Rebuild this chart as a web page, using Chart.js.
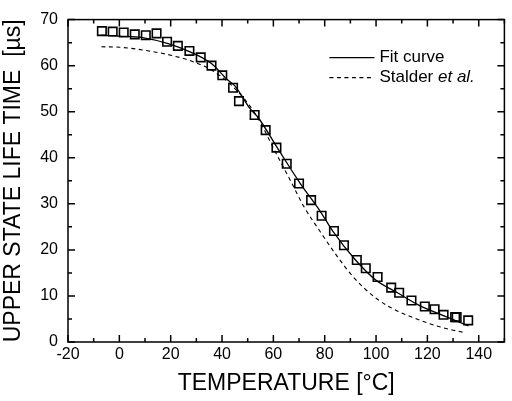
<!DOCTYPE html>
<html>
<head>
<meta charset="utf-8">
<script src="https://cdn.jsdelivr.net/npm/chart.js@4"></script>
<style>
  html, body { margin: 0; padding: 0; background: #fff; }
  #wrap { width: 512px; height: 401px; position: relative; }
</style>
</head>
<body>
<div id="wrap"><canvas id="chart"></canvas></div>
<script>
// measured lifetimes (squares)
const measuredTemp = [-6.8, -2.6, 1.7, 6.0, 10.3, 14.5, 18.6, 22.8, 27.3, 31.7, 35.9, 40.1, 44.3, 46.6, 52.7, 57.0, 61.2, 65.2, 70.0, 74.7, 78.8, 83.6, 87.5, 92.5, 96.0, 100.6, 105.9, 109.0, 113.8, 119.0, 122.8, 126.3, 130.8, 131.4, 135.9];
const measuredLife = [67.5, 67.4, 67.2, 66.8, 66.6, 67.0, 65.2, 64.3, 63.2, 61.8, 60.0, 57.9, 55.2, 52.3, 49.3, 46.0, 42.2, 38.7, 34.4, 30.8, 27.4, 24.1, 21.0, 17.8, 16.0, 14.1, 11.8, 10.7, 9.0, 7.7, 7.1, 5.9, 5.4, 5.4, 4.7];

// fit curve (solid)
const fitTemp = [-7, -4, 0, 9, 19, 28, 36, 42, 45, 51, 54, 61.5, 70.5, 78, 83, 92, 100, 108, 117, 126, 136];
const fitLife = [66.6, 66.5, 66.4, 66.1, 64.8, 62.9, 60.4, 57.0, 55.6, 50.6, 48.8, 42.2, 34.4, 28.6, 24.2, 17.8, 13.4, 10.8, 7.9, 5.8, 3.5];

// Stalder et al. (dashed)
const stalderTemp = [-7, 0, 11.5, 20.5, 28, 36, 44, 53, 61.5, 66.7, 71.8, 78.2, 84.6, 91, 100, 107.7, 115.4, 123, 129, 135];
const stalderLife = [64.1, 64.0, 63.2, 62.2, 61.0, 59.0, 55.6, 49.5, 40.5, 35.0, 29.5, 24.0, 18.8, 14.2, 9.5, 6.9, 5.1, 3.6, 2.7, 2.0];

const xMajor = [-20, 0, 20, 40, 60, 80, 100, 120, 140];
const xMinor = [-10, 10, 30, 50, 70, 90, 110, 130, 150];
const yMajor = [0, 10, 20, 30, 40, 50, 60, 70];
const yMinor = [5, 15, 25, 35, 45, 55, 65];

const FONT = '"Liberation Sans", Arial, sans-serif';

function toPoints(xs, ys) {
    return xs.map((x, i) => ({ x: x, y: ys[i] }));
}

// frame with inward ticks on all four sides
const frameTicks = {
    id: 'frameTicks',
    afterDraw(chart) {
        const ctx = chart.ctx;
        const a = chart.chartArea;
        const xs = chart.scales.x;
        const ys = chart.scales.y;
        ctx.save();
        ctx.strokeStyle = '#000';
        ctx.lineWidth = 1.5;
        ctx.strokeRect(a.left, a.top, a.right - a.left, a.bottom - a.top);
        ctx.beginPath();
        const xt = (v, len) => {
            const px = xs.getPixelForValue(v);
            ctx.moveTo(px, a.bottom); ctx.lineTo(px, a.bottom - len);
            ctx.moveTo(px, a.top); ctx.lineTo(px, a.top + len);
        };
        const yt = (v, len) => {
            const py = ys.getPixelForValue(v);
            ctx.moveTo(a.left, py); ctx.lineTo(a.left + len, py);
            ctx.moveTo(a.right, py); ctx.lineTo(a.right - len, py);
        };
        xMajor.forEach(v => xt(v, 7));
        xMinor.forEach(v => xt(v, 4));
        yMajor.forEach(v => yt(v, 7));
        yMinor.forEach(v => yt(v, 4));
        ctx.stroke();
        ctx.restore();
    }
};

// legend with line samples, "et al." in italics
const lineLegend = {
    id: 'lineLegend',
    afterDraw(chart) {
        const ctx = chart.ctx;
        const a = chart.chartArea;
        const x0 = a.right - 175;
        const rows = [
            { ds: chart.data.datasets[1], y: a.top + 38, parts: [['Fit curve', '']] },
            { ds: chart.data.datasets[2], y: a.top + 58, parts: [['Stalder ', ''], ['et al.', 'italic ']] }
        ];
        ctx.save();
        ctx.fillStyle = '#000';
        ctx.textBaseline = 'middle';
        rows.forEach(r => {
            ctx.beginPath();
            ctx.strokeStyle = r.ds.borderColor;
            ctx.lineWidth = r.ds.borderWidth;
            ctx.setLineDash(r.ds.borderDash || []);
            ctx.moveTo(x0, r.y);
            ctx.lineTo(x0 + 45, r.y);
            ctx.stroke();
            let tx = x0 + 50;
            r.parts.forEach(p => {
                ctx.font = p[1] + '17px ' + FONT;
                ctx.fillText(p[0], tx, r.y);
                tx += ctx.measureText(p[0]).width;
            });
        });
        ctx.restore();
    }
};

new Chart(document.getElementById('chart'), {
    type: 'scatter',
    data: {
        datasets: [
            {
                label: 'Measured',
                data: toPoints(measuredTemp, measuredLife),
                pointStyle: 'rect',
                pointRadius: 6,
                pointBorderWidth: 1.6,
                pointBorderColor: '#000',
                pointBackgroundColor: 'rgba(0,0,0,0)',
                showLine: false
            },
            {
                label: 'Fit curve',
                data: toPoints(fitTemp, fitLife),
                showLine: true,
                borderColor: '#000',
                borderWidth: 1.3,
                pointRadius: 0,
                cubicInterpolationMode: 'monotone'
            },
            {
                label: 'Stalder et al.',
                data: toPoints(stalderTemp, stalderLife),
                showLine: true,
                borderColor: '#000',
                borderWidth: 1.1,
                borderDash: [4, 3.5],
                pointRadius: 0,
                cubicInterpolationMode: 'monotone'
            }
        ]
    },
    options: {
        responsive: true,
        maintainAspectRatio: false,
        animation: false,
        layout: { padding: { top: 15, right: 2, left: 0, bottom: 0 } },
        plugins: {
            legend: { display: false },
            tooltip: { enabled: false }
        },
        scales: {
            x: {
                type: 'linear',
                min: -20,
                max: 150,
                afterFit: s => { s.height = 59; },
                grid: { display: false, drawTicks: false },
                border: { display: false },
                ticks: {
                    stepSize: 20,
                    includeBounds: false,
                    padding: 3,
                    color: '#000',
                    font: { family: FONT, size: 16 }
                },
                title: {
                    display: true,
                    text: 'TEMPERATURE [°C]',
                    color: '#000',
                    padding: 4,
                    font: { family: FONT, size: 23 }
                }
            },
            y: {
                type: 'linear',
                min: 0,
                max: 70,
                afterFit: s => { s.width = 68; },
                grid: { display: false, drawTicks: false },
                border: { display: false },
                ticks: {
                    stepSize: 10,
                    padding: 10,
                    color: '#000',
                    font: { family: FONT, size: 16 }
                },
                title: {
                    display: true,
                    text: 'UPPER STATE LIFE TIME  [µs]',
                    color: '#000',
                    padding: 0,
                    font: { family: FONT, size: 23 }
                }
            }
        }
    },
    plugins: [frameTicks, lineLegend]
});
</script>
</body>
</html>
